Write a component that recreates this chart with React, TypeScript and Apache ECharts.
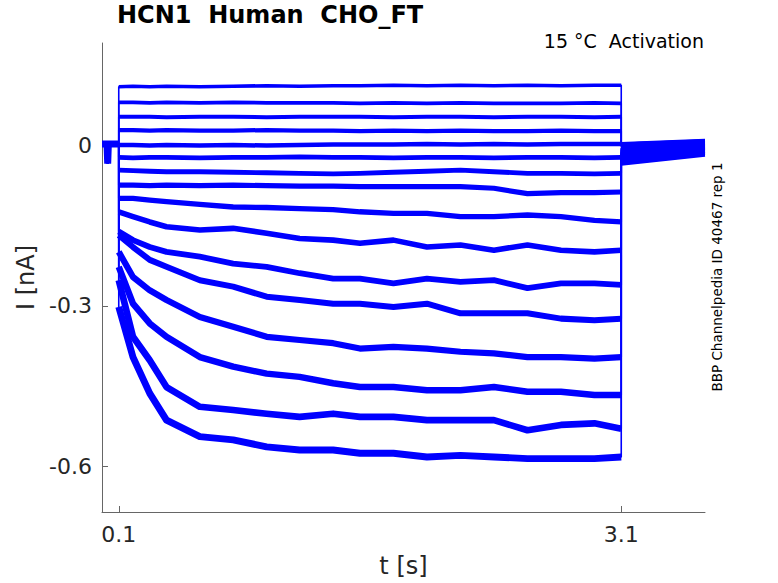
import React, { useEffect, useRef } from "react";
import * as echarts from "echarts";

// Time grid (s) of the activation step
const STEP_T = [0.1, 0.185, 0.285, 0.385, 0.584, 0.783, 0.983, 1.18, 1.38, 1.54, 1.74, 1.94, 2.14, 2.34, 2.54, 2.74, 2.94, 3.1];

// Holding segment before the step (with the small artefact)
const PRE_T = [0, 0.03, 0.034, 0.038, 0.1];
const PRE_I = [0.003, 0.003, -0.034, 0.003, 0.003];

// Current traces (nA) during the step, one per voltage
const TRACE_1 = [0.110, 0.111, 0.110, 0.111, 0.110, 0.111, 0.112, 0.111, 0.112, 0.112, 0.113, 0.112, 0.113, 0.112, 0.113, 0.112, 0.113, 0.113];
const TRACE_2 = [0.081, 0.081, 0.080, 0.081, 0.080, 0.081, 0.080, 0.080, 0.080, 0.079, 0.080, 0.079, 0.080, 0.079, 0.079, 0.079, 0.080, 0.079];
const TRACE_3 = [0.054, 0.054, 0.054, 0.053, 0.054, 0.054, 0.053, 0.054, 0.054, 0.054, 0.053, 0.054, 0.054, 0.053, 0.054, 0.054, 0.053, 0.054];
const TRACE_4 = [0.029, 0.029, 0.028, 0.029, 0.028, 0.028, 0.029, 0.028, 0.028, 0.027, 0.028, 0.027, 0.028, 0.027, 0.027, 0.028, 0.027, 0.027];
const TRACE_5 = [0.001, 0.001, 0.000, 0.001, 0.000, 0.001, 0.000, 0.001, 0.002, 0.002, 0.002, 0.003, 0.002, 0.003, 0.002, 0.003, 0.003, 0.003];
const TRACE_6 = [-0.022, -0.023, -0.022, -0.022, -0.023, -0.022, -0.022, -0.021, -0.022, -0.022, -0.023, -0.022, -0.022, -0.023, -0.022, -0.022, -0.023, -0.022];
const TRACE_7 = [-0.046, -0.047, -0.048, -0.049, -0.049, -0.050, -0.051, -0.052, -0.053, -0.052, -0.050, -0.048, -0.046, -0.049, -0.052, -0.052, -0.053, -0.052];
const TRACE_8 = [-0.074, -0.074, -0.075, -0.074, -0.075, -0.074, -0.075, -0.076, -0.076, -0.077, -0.077, -0.077, -0.077, -0.080, -0.090, -0.088, -0.088, -0.087];
const TRACE_9 = [-0.099, -0.099, -0.102, -0.105, -0.110, -0.115, -0.116, -0.118, -0.120, -0.124, -0.127, -0.127, -0.133, -0.133, -0.130, -0.133, -0.140, -0.143];
const TRACE_10 = [-0.124, -0.133, -0.143, -0.152, -0.158, -0.155, -0.164, -0.174, -0.177, -0.183, -0.177, -0.190, -0.186, -0.196, -0.186, -0.196, -0.199, -0.196];
const TRACE_11 = [-0.161, -0.177, -0.190, -0.199, -0.208, -0.221, -0.227, -0.239, -0.249, -0.249, -0.258, -0.249, -0.255, -0.252, -0.267, -0.258, -0.258, -0.261];
const TRACE_12 = [-0.168, -0.190, -0.214, -0.227, -0.252, -0.264, -0.283, -0.289, -0.296, -0.296, -0.302, -0.296, -0.314, -0.314, -0.314, -0.324, -0.327, -0.324];
const TRACE_13 = [-0.199, -0.246, -0.271, -0.289, -0.321, -0.339, -0.358, -0.364, -0.370, -0.380, -0.377, -0.380, -0.386, -0.389, -0.396, -0.396, -0.399, -0.396];
const TRACE_14 = [-0.227, -0.296, -0.333, -0.358, -0.396, -0.414, -0.427, -0.433, -0.445, -0.452, -0.452, -0.458, -0.458, -0.452, -0.461, -0.461, -0.467, -0.467];
const TRACE_15 = [-0.252, -0.358, -0.402, -0.452, -0.489, -0.495, -0.502, -0.508, -0.502, -0.508, -0.508, -0.514, -0.514, -0.514, -0.533, -0.523, -0.520, -0.530];
const TRACE_16 = [-0.302, -0.396, -0.464, -0.514, -0.545, -0.551, -0.564, -0.570, -0.570, -0.576, -0.576, -0.583, -0.580, -0.583, -0.586, -0.586, -0.586, -0.583];

// Tail currents after the step (at 3.1 s and at 3.6 s)
const TAIL_START = [0.004, 0.003, 0.002, 0.0, -0.002, -0.004, -0.006, -0.009, -0.012, -0.015, -0.018, -0.022, -0.026, -0.029, -0.032, -0.035];
const TAIL_END = [0.010, 0.009, 0.008, 0.007, 0.006, 0.005, 0.003, 0.001, -0.001, -0.003, -0.005, -0.007, -0.010, -0.012, -0.015, -0.018];
const T_END = 3.6;

const TRACES = [TRACE_1, TRACE_2, TRACE_3, TRACE_4, TRACE_5, TRACE_6, TRACE_7, TRACE_8, TRACE_9, TRACE_10, TRACE_11, TRACE_12, TRACE_13, TRACE_14, TRACE_15, TRACE_16];

const X_TICKS = [0.1, 3.1];
const Y_TICKS = [-0.6, -0.3, 0];

const TITLE = "HCN1  Human  CHO_FT";
const SUBTITLE = "15 °C  Activation";
const SIDE_NOTE = "BBP Channelpedia ID 40467 rep 1";
const X_NAME = "t [s]";
const Y_NAME = "I [nA]";

const FONT = "'DejaVu Sans', sans-serif";
const BLUE = "#0000ff";

export default function App() {
  const ref = useRef<HTMLDivElement>(null);

  useEffect(() => {
    if (!ref.current) return;
    const chart = echarts.init(ref.current, undefined, { renderer: "svg" });

    const series: any[] = [];
    const lastT = STEP_T[STEP_T.length - 1];

    TRACES.forEach((tr, i) => {
      // thin full path: holding, jump, step, jump back, tail
      const full: number[][] = [];
      PRE_T.forEach((t, j) => full.push([t, PRE_I[j]]));
      STEP_T.forEach((t, j) => full.push([t, tr[j]]));
      full.push([lastT, TAIL_START[i]]);
      full.push([T_END, TAIL_END[i]]);
      series.push({
        type: "line",
        data: full,
        showSymbol: false,
        symbol: "none",
        lineStyle: { color: BLUE, width: 1.6, cap: "butt" },
        silent: true,
        z: 2,
      });
      // thick band of the step
      series.push({
        type: "line",
        data: STEP_T.map((t, j) => [t, tr[j]]),
        showSymbol: false,
        symbol: "none",
        lineStyle: { color: BLUE, width: 3.6 + i * 0.22, join: "round", cap: "butt" },
        silent: true,
        z: 3,
      });
      // tail band
      series.push({
        type: "line",
        data: [
          [lastT, TAIL_START[i]],
          [T_END, TAIL_END[i]],
        ],
        showSymbol: false,
        symbol: "none",
        lineStyle: { color: BLUE, width: 3, cap: "butt" },
        silent: true,
        z: 3,
      });
    });

    // holding segment band
    series.push({
      type: "line",
      data: PRE_T.map((t, j) => [t, PRE_I[j]]),
      showSymbol: false,
      symbol: "none",
      lineStyle: { color: BLUE, width: 7, cap: "butt", join: "miter" },
      silent: true,
      z: 3,
    });

    chart.setOption({
      animation: false,
      title: {
        text: TITLE,
        left: 117,
        top: 3,
        padding: 0,
        textStyle: { fontFamily: FONT, fontWeight: "bold", fontSize: 24, color: "#000" },
      },
      grid: { left: 102, top: 43, right: 73, bottom: 71, containLabel: false },
      xAxis: {
        type: "value",
        min: 0,
        max: 3.6,
        name: X_NAME,
        nameLocation: "middle",
        nameGap: 42,
        nameTextStyle: { fontFamily: FONT, fontSize: 24, color: "#262626" },
        axisLine: { onZero: false, lineStyle: { color: "#666", width: 1 } },
        axisTick: { inside: true, length: 6, customValues: X_TICKS, lineStyle: { color: "#666" } },
        axisLabel: {
          customValues: X_TICKS,
          fontFamily: FONT,
          fontSize: 22,
          color: "#262626",
          margin: 11,
        },
        splitLine: { show: false },
      },
      yAxis: {
        type: "value",
        min: -0.686,
        max: 0.192,
        name: Y_NAME,
        nameLocation: "middle",
        nameGap: 60,
        nameTextStyle: { fontFamily: FONT, fontSize: 24, color: "#262626" },
        axisLine: { show: true, onZero: false, lineStyle: { color: "#666", width: 1 } },
        axisTick: { show: true, inside: true, length: 6, customValues: Y_TICKS, lineStyle: { color: "#666" } },
        axisLabel: {
          customValues: Y_TICKS,
          fontFamily: FONT,
          fontSize: 22,
          color: "#262626",
          margin: 10,
          formatter: (v: number) => String(Math.round(v * 10) / 10),
        },
        splitLine: { show: false },
      },
      graphic: [
        {
          type: "text",
          x: 704,
          y: 41,
          style: {
            text: SUBTITLE,
            fontFamily: FONT,
            fontSize: 19,
            fill: "#000",
            align: "right",
            verticalAlign: "middle",
          },
        },
        {
          type: "text",
          x: 717,
          y: 277,
          rotation: Math.PI / 2,
          style: {
            text: SIDE_NOTE,
            fontFamily: FONT,
            fontSize: 13.5,
            fill: "#000",
            align: "center",
            verticalAlign: "middle",
          },
        },
      ],
      series,
    });

    return () => chart.dispose();
  }, []);

  return (
    <div
      ref={ref}
      style={{ position: "fixed", left: 0, top: 0, width: 778, height: 583, background: "#fff" }}
    />
  );
}
